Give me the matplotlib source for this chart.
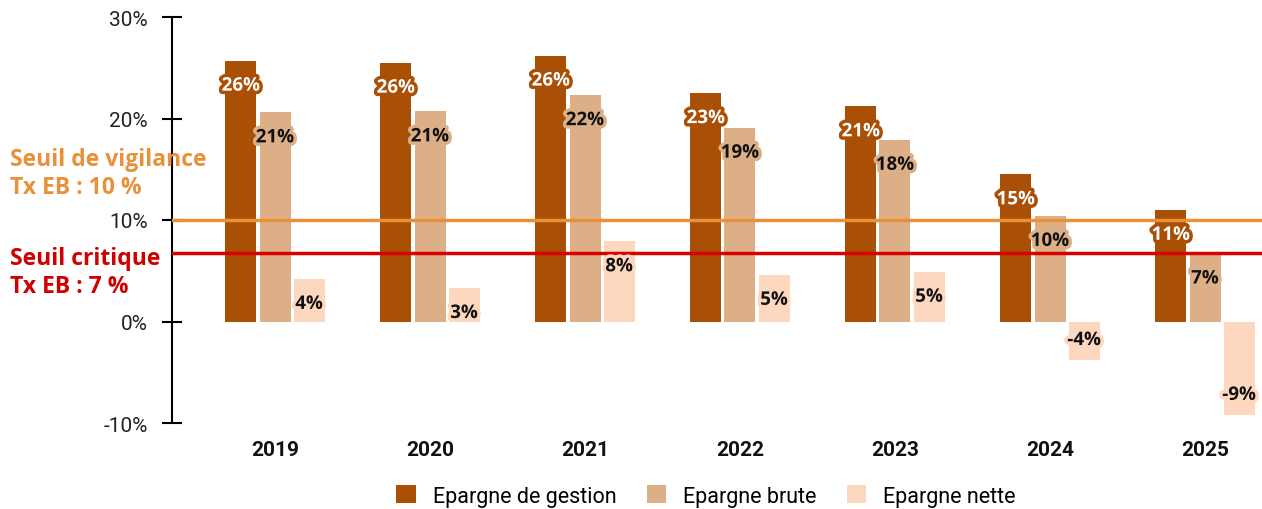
import matplotlib
matplotlib.use("Agg")
import matplotlib.pyplot as plt
import matplotlib.patheffects as pe
import numpy as np

years = ["2019", "2020", "2021", "2022", "2023", "2024", "2025"]
gestion = [25.7, 25.5, 26.2, 22.5, 21.2, 14.5, 11.0]
brute = [20.6, 20.7, 22.3, 19.1, 17.9, 10.4, 6.7]
nette = [4.2, 3.3, 7.9, 4.6, 4.9, -3.8, -9.2]
labels_gestion = ["26%", "26%", "26%", "23%", "21%", "15%", "11%"]
labels_brute = ["21%", "21%", "22%", "19%", "18%", "10%", "7%"]
labels_nette = ["4%", "3%", "8%", "5%", "5%", "-4%", "-9%"]
seuil_vigilance = 10.0
seuil_critique = 6.7

plt.rcParams['font.family'] = ['Roboto', 'DejaVu Sans']

fig = plt.figure(figsize=(12.62, 5.10), dpi=100)
ax = fig.add_axes([172 / 1262, 1 - 424 / 510, 1 - 172 / 1262, (424 - 18) / 510])

x = np.arange(len(years))
w = 0.2
off = 0.22
series = [
    (gestion, labels_gestion, "#A94F06", "white", "Epargne de gestion"),
    (brute, labels_brute, "#DCAF86", "#111111", "Epargne brute"),
    (nette, labels_nette, "#FDD8BF", "#111111", "Epargne nette"),
]
for i, (vals, labs, col, tcol, name) in enumerate(series):
    pos = x + (i - 1) * off
    ax.bar(pos, vals, width=w, color=col, label=name, zorder=2)
    for p, v, l in zip(pos, vals, labs):
        dy = -25 if v >= 0 else 20
        ax.annotate(l, (p, v), xytext=(0, dy), textcoords="offset pixels",
                    ha="center", va="center", fontsize=13.5, fontweight="bold", color=tcol, zorder=5,
                    family=["Open Sans", "DejaVu Sans"],
                    path_effects=[pe.withStroke(linewidth=5, foreground=col)])

ax.axhline(seuil_vigilance, color="#E8913A", lw=2.5, zorder=3)
ax.axhline(seuil_critique, color="#D90000", lw=2.5, zorder=3)

ax.set_xlim(-(275 - 172) / 155, (1262 - 275) / 155)
ax.set_ylim(-10, 30)
ax.set_yticks([-10, 0, 10, 20, 30])
ax.set_yticklabels(["-10%", "0%", "10%", "20%", "30%"], fontsize=15, color="#222222")
ax.tick_params(axis="y", direction="inout", length=15, width=1.5, pad=10)
ax.set_xticks(x)
ax.set_xticklabels(years, fontsize=15, fontweight="bold", color="#111111")
ax.tick_params(axis="x", length=0, pad=12)
for s in ["top", "right", "bottom"]:
    ax.spines[s].set_visible(False)
ax.spines["left"].set_linewidth(1.5)
ax.patch.set_alpha(0)

thr_font = ["Open Sans", "DejaVu Sans"]
fig.text(10 / 1262, 1 - 160 / 510, "Seuil de vigilance", color="#E8913A", fontsize=16.5,
         fontweight="bold", family=thr_font, va="center")
fig.text(10 / 1262, 1 - 188 / 510, "Tx EB : 10 %", color="#E8913A", fontsize=16.5,
         fontweight="bold", family=thr_font, va="center")
fig.text(10 / 1262, 1 - 259 / 510, "Seuil critique", color="#D00000", fontsize=16.5,
         fontweight="bold", family=thr_font, va="center")
fig.text(10 / 1262, 1 - 287 / 510, "Tx EB : 7 %", color="#D00000", fontsize=16.5,
         fontweight="bold", family=thr_font, va="center")

fig.legend(loc="center", bbox_to_anchor=(706 / 1262, 1 - 497 / 510), ncol=3, frameon=False,
           fontsize=15.5, handlelength=0.9, handleheight=0.9, columnspacing=1.4, handletextpad=0.8,
           borderaxespad=0)

fig.savefig("out.png", dpi=100)
